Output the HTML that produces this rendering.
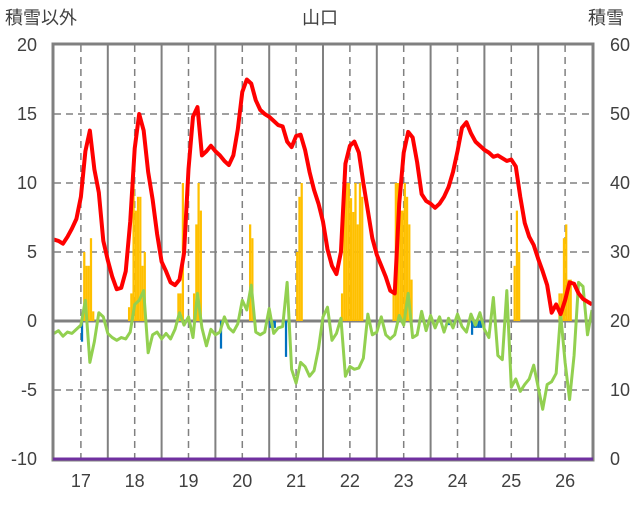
<!DOCTYPE html>
<html><head><meta charset="utf-8"><style>
body{margin:0;background:#fff;}
svg text{font-family:"Liberation Sans","Noto Sans CJK JP",sans-serif;fill:#404040;}
</style></head><body>
<svg id="chart" width="636" height="501" viewBox="0 0 636 501" xmlns="http://www.w3.org/2000/svg">
<text x="5" y="24" font-size="18">積雪以外</text>
<text x="320" y="24" font-size="18" text-anchor="middle">山口</text>
<text x="588" y="24" font-size="18">積雪</text>
<g id="grid"></g>
<g id="bars"></g>
<g id="lines"></g>
<g id="frame"></g>
<g id="labels"></g>
</svg>
<script>
const leftTicks=[20,15,10,5,0,-5,-10];
const rightTicks=[60,50,40,30,20,10,0];
const yearLabels=["17","18","19","20","21","22","23","24","25","26"];
const redVals=[5.9,5.8,5.6,6.1,6.7,7.4,9.0,12.3,13.8,11.0,9.3,5.8,4.4,3.2,2.3,2.4,3.6,7.2,12.5,15.0,13.8,10.8,8.8,6.3,4.3,3.6,2.8,2.6,3.0,4.9,11.0,14.8,15.5,12.0,12.3,12.7,12.3,12.0,11.6,11.3,12.0,13.9,16.6,17.5,17.2,16.0,15.3,15.0,14.8,14.5,14.2,14.1,13.0,12.6,13.4,13.5,12.4,10.8,9.5,8.5,7.2,5.2,4.0,3.4,5.0,11.4,12.7,13.0,12.2,10.0,8.0,6.0,4.8,4.0,3.2,2.2,2.0,8.5,12.2,13.7,13.3,11.5,9.2,8.7,8.5,8.2,8.5,9.0,9.7,10.8,12.3,14.0,14.4,13.6,13.0,12.7,12.4,12.2,11.9,12.0,11.8,11.6,11.7,11.2,9.0,7.1,6.1,5.5,4.5,3.6,2.6,0.6,1.2,0.5,1.5,2.8,2.7,2.0,1.6,1.4,1.2];
const greenVals=[-0.9,-0.7,-1.1,-0.8,-0.9,-0.6,-0.3,1.5,-3.0,-1.5,0.6,0.3,-0.9,-1.2,-1.4,-1.2,-1.3,-0.8,1.2,1.5,2.2,-2.3,-1.0,-0.8,-1.3,-0.9,-1.3,-0.6,0.6,-0.3,0.3,-1.2,2.0,-0.5,-1.8,-0.6,-1.0,-0.8,0.3,-0.5,-0.8,-0.2,1.5,0.8,2.6,-0.8,-1.0,-0.8,0.9,-0.9,-0.5,-0.4,2.8,-3.5,-4.5,-3.0,-3.3,-4.0,-3.6,-2.0,0.3,1.0,-1.4,-0.9,0.2,-4.0,-3.3,-3.5,-3.4,-2.7,0.5,-1.0,-0.8,0.3,-1.0,-1.3,-1.0,0.4,-0.3,2.0,-1.2,-1.0,0.7,-0.7,0.4,-0.5,0.3,-0.8,0.2,-0.5,0.5,-0.4,-0.8,0.5,-0.3,0.6,-0.6,-1.2,1.7,-2.5,-2.8,2.2,-4.8,-4.2,-5.1,-4.6,-4.2,-3.2,-4.8,-6.4,-4.6,-4.4,-3.8,0.5,-3.0,-5.7,-2.5,2.8,2.5,-1.0,0.8];
const snowIdx=[13,14,15,16,17,33,34,35,36,37,38,39,40,55,56,57,62,63,64,65,87,88,108,109,110,128,129,130,131,132,133,134,135,136,137,151,152,153,154,155,156,157,158,159,205,206,207,225,226,227,228,229,230];
const snowVals=[5,4,4,6,0.7,1,2,10,8,9,9,4,5,2,2,10,2,7,10,8,7,6,5,9,10,2,10,10,10,8.9,7.9,10,7,10,9,2,10,10,8,8,10,9,7,3,4,8,5,2,2,6,7,3,3];
const negIdx=[12,74,96,97,98,103,175,176,178,186,187,188,189,190,191];
const negVals=[-1.5,-2,-0.5,-0.5,-0.5,-2.6,-0.3,-0.3,-0.3,-1.0,-0.5,-0.5,-0.5,-0.5,-0.3];

const X0=54,X1=592,YT=45,YB=459;
const nMonths=120;
const xm=i=>X0+(X1-X0)*i/nMonths;
const xh=k=>X0+(X1-X0)*k/(nMonths*2);
const y=v=>YB-(v+10)*(YB-YT)/30;
const NS="http://www.w3.org/2000/svg";
function mk(tag,attrs,parent){const e=document.createElementNS(NS,tag);for(const k in attrs)e.setAttribute(k,attrs[k]);document.getElementById(parent).appendChild(e);return e;}

// grid
leftTicks.forEach(t=>{
  if(t===20||t===-10)return;
  const l=mk('line',{x1:X0,x2:X1,y1:y(t),y2:y(t),stroke:'#808080','stroke-width':t===0?3:1.5,'stroke-dasharray':t===0?'none':'7,5'},'grid');
  
  
});
yearLabels.forEach((lab,j)=>{
  const xd=xm(6+12*j);
  const l=mk('line',{x1:xd,x2:xd,y1:YT,y2:YB,stroke:'#808080','stroke-width':1.5,'stroke-dasharray':'7,5'},'grid');
  
  
  if(j<yearLabels.length-1){
    const xs=xm(12+12*j);
    const s=mk('line',{x1:xs,x2:xs,y1:YT,y2:YB,stroke:'#808080','stroke-width':2},'grid');
    
    
  }
  const t=mk('text',{x:xd,y:487,'font-size':18,'text-anchor':'middle'},'labels');
  t.textContent=lab;
  
  
});
leftTicks.forEach(t=>{
  const e=mk('text',{x:37,y:y(t)+6,'font-size':18,'text-anchor':'end'},'labels');
  e.textContent=t;
  
  
});
rightTicks.forEach(t=>{
  const e=mk('text',{x:610,y:y(t/2-10)+6,'font-size':18,'text-anchor':'start'},'labels');
  e.textContent=t;
  
  
});
// bars
const bw=(X1-X0)/240;
snowIdx.forEach((k,i)=>{
  const v=snowVals[i];
  const r=mk('rect',{x:xh(k),y:y(v),width:bw,height:y(0)-y(v),fill:'#ffc000'},'bars');
  
  
});
negIdx.forEach((k,i)=>{
  const v=negVals[i];
  const r=mk('rect',{x:xh(k),y:y(0),width:bw,height:y(v)-y(0),fill:'#0070c0'},'bars');
  
  
});
// lines
const gp=mk('polyline',{points:greenVals.map((v,i)=>xm(i)+','+y(v)).join(' '),fill:'none',stroke:'#92d050','stroke-width':3,'stroke-linejoin':'round'},'lines');


const rp=mk('polyline',{points:redVals.map((v,i)=>xm(i)+','+y(v)).join(' '),fill:'none',stroke:'#ff0000','stroke-width':4,'stroke-linejoin':'round'},'lines');


// frame
const fr=mk('rect',{x:X0-1,y:YT-1,width:X1-X0+2,height:YB-YT+2,fill:'none',stroke:'#808080','stroke-width':3},'frame');


const pl=mk('line',{x1:X0-1,x2:X1+1,y1:YB,y2:YB,stroke:'#7030a0','stroke-width':3},'frame');


</script>
</body></html>
